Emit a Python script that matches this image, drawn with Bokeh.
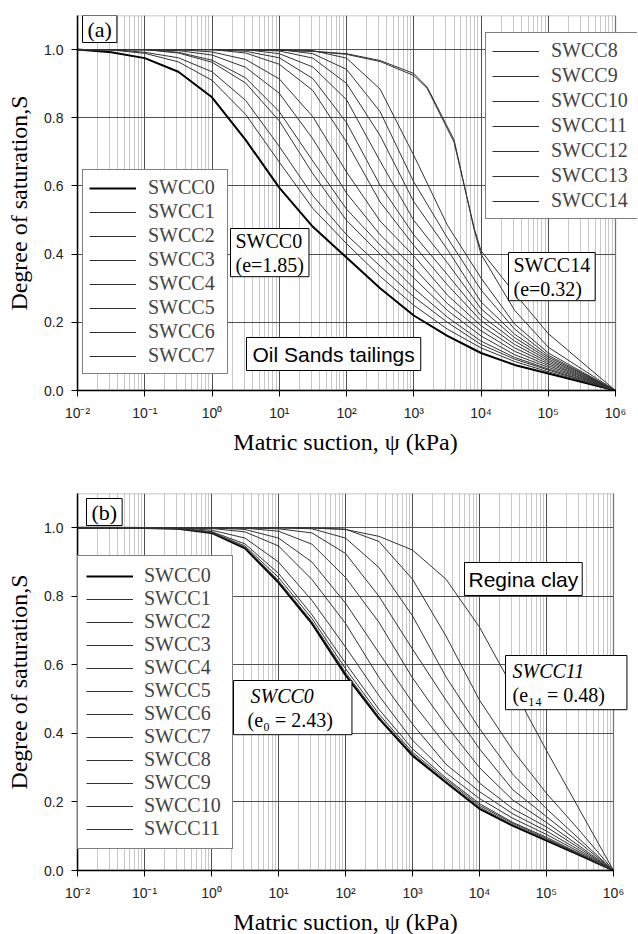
from bokeh.plotting import figure
from bokeh.models import (FixedTicker, Legend, LegendItem, Label, Range1d,
                          NumeralTickFormatter, BoxAnnotation)
from bokeh.layouts import column
from bokeh.embed import file_html
from bokeh.resources import INLINE

# ---------------- data ----------------
# matric suction grid, kPa (half-decade steps)
psi = [0.01, 0.0316, 0.1, 0.316, 1, 3.16, 10, 31.6, 100, 316, 1000, 3162,
       10000, 31623, 100000, 316228, 1000000]

# (a) Oil Sands tailings: degree of saturation
oil_swcc0 = [1.0, 0.992, 0.975, 0.935, 0.86, 0.735, 0.595, 0.48, 0.39, 0.30, 0.22, 0.16, 0.11, 0.075, 0.05, 0.025, 0.0]
oil_swcc1 = [1.0, 0.999, 0.989, 0.964, 0.91, 0.81, 0.67, 0.534, 0.431, 0.335, 0.25, 0.18, 0.125, 0.085, 0.055, 0.028, 0.0]
oil_swcc2 = [1.0, 1.0, 0.992, 0.976, 0.935, 0.851, 0.716, 0.571, 0.457, 0.365, 0.275, 0.20, 0.135, 0.092, 0.06, 0.03, 0.0]
oil_swcc3 = [1.0, 1.0, 1.0, 0.99, 0.963, 0.902, 0.791, 0.636, 0.499, 0.40, 0.30, 0.215, 0.145, 0.097, 0.063, 0.032, 0.0]
oil_swcc4 = [1.0, 1.0, 1.0, 0.992, 0.969, 0.917, 0.818, 0.673, 0.532, 0.427, 0.33, 0.235, 0.16, 0.105, 0.068, 0.035, 0.0]
oil_swcc5 = [1.0, 1.0, 1.0, 0.997, 0.984, 0.948, 0.872, 0.738, 0.579, 0.457, 0.36, 0.255, 0.175, 0.115, 0.073, 0.037, 0.0]
oil_swcc6 = [1.0, 1.0, 1.0, 1.0, 0.993, 0.971, 0.914, 0.803, 0.641, 0.497, 0.395, 0.28, 0.19, 0.125, 0.078, 0.04, 0.0]
oil_swcc7 = [1.0, 1.0, 1.0, 1.0, 1.0, 0.99, 0.957, 0.88, 0.729, 0.553, 0.426, 0.31, 0.205, 0.135, 0.083, 0.042, 0.0]
oil_swcc8 = [1.0, 1.0, 1.0, 1.0, 1.0, 0.995, 0.976, 0.915, 0.786, 0.602, 0.457, 0.34, 0.22, 0.145, 0.088, 0.045, 0.0]
oil_swcc9 = [1.0, 1.0, 1.0, 1.0, 1.0, 1.0, 0.988, 0.949, 0.853, 0.673, 0.499, 0.375, 0.24, 0.155, 0.093, 0.047, 0.0]
oil_swcc10 = [1.0, 1.0, 1.0, 1.0, 1.0, 1.0, 0.996, 0.975, 0.901, 0.748, 0.554, 0.414, 0.26, 0.165, 0.098, 0.05, 0.0]
oil_swcc11 = [1.0, 1.0, 1.0, 1.0, 1.0, 1.0, 1.0, 0.988, 0.942, 0.818, 0.612, 0.448, 0.295, 0.18, 0.103, 0.052, 0.0]
oil_swcc12 = [1.0, 1.0, 1.0, 1.0, 1.0, 1.0, 1.0, 0.997, 0.975, 0.884, 0.69, 0.485, 0.33, 0.195, 0.11, 0.055, 0.0]
# the two densest states were sampled at their own suctions
psi_steep = [0.01, 1, 10, 31.6, 100, 316, 1000, 1585, 3981, 7943, 10000, 31623, 100000, 316228, 1000000]
oil_swcc13 = [1.0, 1.0, 0.998, 0.995, 0.988, 0.968, 0.93, 0.89, 0.735, 0.47, 0.40, 0.235, 0.127, 0.063, 0.0]
oil_swcc14 = [1.0, 1.0, 0.998, 0.995, 0.986, 0.965, 0.924, 0.886, 0.728, 0.475, 0.41, 0.285, 0.167, 0.083, 0.0]

# (b) Regina clay: degree of saturation
reg_swcc0 = [1.0, 1.0, 0.999, 0.997, 0.985, 0.94, 0.84, 0.72, 0.57, 0.443, 0.335, 0.257, 0.18, 0.13, 0.087, 0.044, 0.0]
reg_swcc1 = [1.0, 1.0, 0.999, 0.997, 0.986, 0.943, 0.846, 0.726, 0.578, 0.448, 0.34, 0.26, 0.185, 0.133, 0.09, 0.046, 0.0]
reg_swcc2 = [1.0, 1.0, 0.999, 0.998, 0.987, 0.947, 0.855, 0.735, 0.589, 0.456, 0.345, 0.265, 0.19, 0.137, 0.093, 0.047, 0.0]
reg_swcc3 = [1.0, 1.0, 1.0, 0.998, 0.989, 0.953, 0.867, 0.746, 0.605, 0.47, 0.355, 0.27, 0.195, 0.14, 0.097, 0.049, 0.0]
reg_swcc4 = [1.0, 1.0, 1.0, 1.0, 0.993, 0.97, 0.90, 0.788, 0.652, 0.51, 0.38, 0.285, 0.21, 0.152, 0.105, 0.053, 0.0]
reg_swcc5 = [1.0, 1.0, 1.0, 1.0, 0.998, 0.988, 0.947, 0.849, 0.721, 0.563, 0.427, 0.31, 0.23, 0.165, 0.115, 0.058, 0.0]
reg_swcc6 = [1.0, 1.0, 1.0, 1.0, 1.0, 0.995, 0.97, 0.90, 0.78, 0.635, 0.49, 0.365, 0.255, 0.18, 0.127, 0.064, 0.0]
reg_swcc7 = [1.0, 1.0, 1.0, 1.0, 1.0, 0.999, 0.99, 0.952, 0.855, 0.724, 0.562, 0.424, 0.30, 0.205, 0.14, 0.07, 0.0]
reg_swcc8 = [1.0, 1.0, 1.0, 1.0, 1.0, 1.0, 0.997, 0.985, 0.925, 0.80, 0.646, 0.497, 0.355, 0.235, 0.157, 0.08, 0.0]
reg_swcc9 = [1.0, 1.0, 1.0, 1.0, 1.0, 1.0, 1.0, 0.997, 0.97, 0.884, 0.743, 0.565, 0.414, 0.28, 0.18, 0.09, 0.0]
reg_swcc10 = [1.0, 1.0, 1.0, 1.0, 1.0, 1.0, 1.0, 1.0, 0.996, 0.96, 0.85, 0.684, 0.497, 0.35, 0.225, 0.115, 0.0]
reg_swcc11 = [1.0, 1.0, 1.0, 1.0, 1.0, 1.0, 1.0, 0.999, 0.995, 0.975, 0.935, 0.85, 0.71, 0.532, 0.35, 0.175, 0.0]

# axis ticks
x_major = [0.01, 0.1, 1, 10, 100, 1000, 10000, 100000, 1000000]
x_tick_labels = ["10⁻²", "10⁻¹", "10⁰", "10¹", "10²", "10³", "10⁴", "10⁵", "10⁶"]
y_major = [0.0, 0.2, 0.4, 0.6, 0.8, 1.0]

oil_curves = [oil_swcc0, oil_swcc1, oil_swcc2, oil_swcc3, oil_swcc4, oil_swcc5, oil_swcc6,
              oil_swcc7, oil_swcc8, oil_swcc9, oil_swcc10, oil_swcc11, oil_swcc12,
              oil_swcc13, oil_swcc14]
oil_psis = [psi] * 13 + [psi_steep, psi_steep]
reg_curves = [reg_swcc0, reg_swcc1, reg_swcc2, reg_swcc3, reg_swcc4, reg_swcc5, reg_swcc6,
              reg_swcc7, reg_swcc8, reg_swcc9, reg_swcc10, reg_swcc11]

# ---------------- styling helpers ----------------
SERIF = "Liberation Serif"
SANS = "Liberation Sans"
x_minor = [k * 10.0 ** d for d in range(-2, 6) for k in range(2, 10)]
X_LO, X_HI = 0.01, 1e6
CANVAS_W = 637
LEFT = 77
NBSP = "\u00a0"


def make_panel(axis_px, frame_h, mb_top, mb_bottom):
    # the drawing area is widened to the right so that boxes may overhang the axes
    extra = CANVAS_W - LEFT - axis_px
    x_end = 10 ** (6 + extra * 8.0 / axis_px)
    p = figure(x_axis_type="log", x_range=Range1d(X_LO, x_end), y_range=Range1d(0, 1.1),
               frame_width=CANVAS_W - LEFT, frame_height=frame_h, output_backend="svg",
               toolbar_location=None, min_border_left=LEFT, min_border_right=0,
               min_border_top=mb_top, min_border_bottom=mb_bottom)
    p.outline_line_color = None
    xt = FixedTicker(ticks=x_major, minor_ticks=x_minor)
    yt = FixedTicker(ticks=y_major)
    p.xaxis.ticker = xt
    p.xgrid.ticker = xt
    p.yaxis.ticker = yt
    p.ygrid.ticker = yt
    p.xaxis.bounds = (X_LO, X_HI)
    p.xaxis.major_label_overrides = {t: l for t, l in zip(x_major, x_tick_labels)}
    p.yaxis.formatter = NumeralTickFormatter(format="0.0")
    p.xgrid.grid_line_color = "#505050"
    p.ygrid.grid_line_color = "#505050"
    p.xgrid.minor_grid_line_color = "#c8c8c8"
    for ax in (p.xaxis[0], p.yaxis[0]):
        ax.axis_line_color = "black"
        ax.axis_line_width = 1.5
        ax.major_tick_line_color = "black"
        ax.major_tick_in = 0
        ax.major_tick_out = 6
        ax.minor_tick_in = 0
        ax.minor_tick_out = 0
        ax.major_label_text_font = SANS
        ax.major_label_text_font_size = "14px"
        ax.major_label_text_color = "#222222"
        ax.axis_label_text_font = SERIF
        ax.axis_label_text_font_size = "24px"
        ax.axis_label_text_font_style = "normal"
        ax.axis_label_text_color = "black"
    p.xaxis.major_label_standoff = 8
    p.xaxis.axis_label_standoff = 5
    p.yaxis.major_label_standoff = 8
    p.yaxis.axis_label_standoff = 9
    # trailing no-break spaces keep the title centred under the axes, not the widened area
    p.xaxis.axis_label = "Matric suction, ψ (kPa)" + NBSP * 4
    p.yaxis.axis_label = "Degree of saturation,S"
    # blank out the grid beyond the last decade
    p.add_layout(BoxAnnotation(left=X_HI, fill_color="white", fill_alpha=1.0,
                               line_color=None, level="underlay"))
    # frame of the axes
    p.add_layout(BoxAnnotation(left=X_LO, right=X_HI, bottom=0, top=1.1, fill_alpha=0.0,
                               line_color="black", line_width=1.5))
    return p


def add_curves(p, psis, curves):
    rs = []
    for i, (xs, ys) in enumerate(zip(psis, curves)):
        if i == 0:
            r = p.line(xs, ys, line_color="black", line_width=2)
        else:
            r = p.line(xs, ys, line_color="#333333", line_width=1)
        rs.append(r)
    return rs


def add_legend(p, rs, start, loc, spacing, padding, standoff, label_w):
    items = [LegendItem(label="SWCC%d" % (start + i), renderers=[r]) for i, r in enumerate(rs)]
    leg = Legend(items=items, location=loc, orientation="vertical")
    leg.label_text_font = SERIF
    leg.label_text_font_size = "20px"
    leg.glyph_width = 47
    leg.glyph_height = 20
    leg.label_height = 20
    leg.label_width = label_w
    leg.label_standoff = standoff
    leg.padding = padding
    leg.spacing = spacing
    leg.margin = 0
    leg.border_line_color = "black"
    leg.border_line_width = 1.5
    leg.background_fill_alpha = 1.0
    p.add_layout(leg)


def boxed(p, text, left, top, font, size, style="normal", pad=(6, 2), border=True):
    # pad = (horizontal, vertical)
    lab = Label(x=left, y=top, x_units="screen", y_units="screen", text=text,
                text_font=font, text_font_size=size, text_font_style=style,
                text_align="left", text_baseline="top", text_color="black",
                text_line_height=1.1, padding=pad)
    if border:
        lab.background_fill_color = "white"
        lab.border_line_color = "black"
        lab.border_line_width = 1
    p.add_layout(lab)


# ---------------- panel (a) ----------------
pa = make_panel(538, 375, 15, 88)
ra = add_curves(pa, oil_psis, oil_curves)
add_legend(pa, ra[:8], 0, (5, 16), 1, 6, 12, 73)
add_legend(pa, ra[8:], 8, (408, 171), 2, 6, 12, 81)
boxed(pa, "(a)", 5, 375, SERIF, "22px", pad=(5, 1))
boxed(pa, "SWCC0\n(e=1.85)", 153, 162, SERIF, "20px", pad=(5, 1))
boxed(pa, "Oil Sands tailings", 169, 53, SANS, "21px", pad=(6, 5))
boxed(pa, "SWCC14\n(e=0.32)", 431, 138, SERIF, "20px", pad=(5, 1))

# ---------------- panel (b) ----------------
pb = make_panel(536, 377, 15, 64)
rb = add_curves(pb, [psi] * 12, reg_curves)
add_legend(pb, rb, 0, (0, 21), 0, 8, 11, 80)
boxed(pb, "(b)", 9, 372, SERIF, "22px", pad=(5, 1))
boxed(pb, "Regina clay", 387, 308, SANS, "21px", pad=(4, 5))
boxed(pb, " \n(e₀ = 2.43)" + NBSP, 156, 190, SERIF, "20px", pad=(14, 4))
boxed(pb, "SWCC0", 173, 186, SERIF, "20px", style="italic", pad=(0, 0), border=False)
boxed(pb, " \n(e₁₄ = 0.48)" + NBSP * 3, 428, 215, SERIF, "20px", pad=(7, 4))
boxed(pb, "SWCC11", 435, 211, SERIF, "20px", style="italic", pad=(0, 0), border=False)

layout = column(pa, pb)
open("out.html", "w").write(file_html(layout, INLINE))
